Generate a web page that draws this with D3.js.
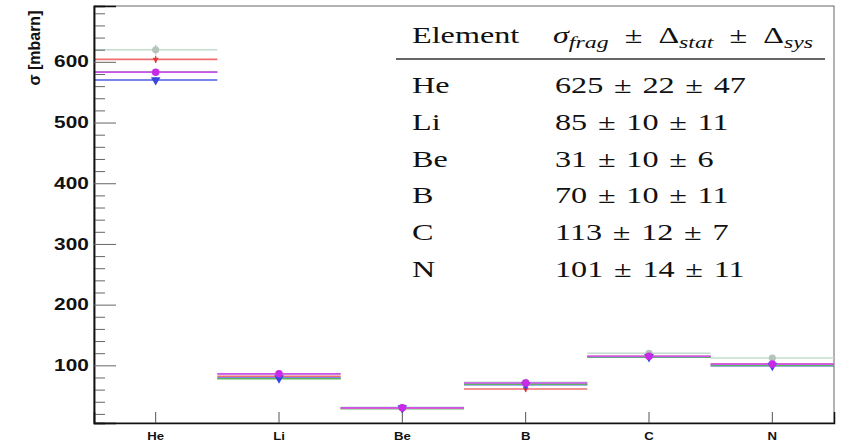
<!DOCTYPE html>
<html>
<head>
<meta charset="utf-8">
<script src="https://cdn.jsdelivr.net/npm/d3@7"></script>
<style>
  body { margin: 0; background: #fff; }
  svg { display: block; }
</style>
</head>
<body>
<svg id="frag_chart" width="841" height="442"></svg>
<script>
// categories (x bins)
const elements = ["He", "Li", "Be", "B", "C", "N"]

// histogram values per model, mbarn
const paleVals    = [620, 86, 31, 72, 120, 112]
const redVals     = [604, 82, 29.5, 61, 115, 102]
const greenVals   = [583, 78, 28.5, 69, 114, 100]
const blueVals    = [570, 79, 29.5, 68, 114, 99.5]
const magentaVals = [583, 86, 30, 71, 115, 102]

// error half-lengths
const paleErr    = [8, 3, 3, 3, 4, 5]
const redErr     = [6, 3, 2, 5, 3, 3]
const blueErr    = [5, 2, 2, 2, 2, 2]
const magentaErr = [3, 2, 2, 2, 2, 2]

// table content
const fragVals = [625, 85, 31, 70, 113, 101]
const statVals = [22, 10, 10, 10, 12, 14]
const sysVals  = [47, 11, 6, 11, 7, 11]

const yMajor = [100, 200, 300, 400, 500, 600]
const yMinor = d3.range(20, 700, 20).filter(v => v % 100 !== 0)

var margin = {top: 6, right: 7, bottom: 19, left: 94},
  width = 841 - margin.left - margin.right,
  height = 442 - margin.top - margin.bottom;

var svg = d3.select("#frag_chart")
  .append("g")
  .attr("transform", "translate(" + margin.left + "," + margin.top + ")");

var x = d3.scaleBand().domain(elements).range([0, width]).padding(0)
var y = d3.scaleLinear().domain([5, 692]).range([height, 0])

// frame
svg.append("rect")
  .attr("width", width).attr("height", height)
  .attr("fill", "none").attr("stroke", "#666").attr("stroke-width", 1)

// histograms, drawn back to front
const series = [
  {vals: paleVals,    color: "#c2dccd"},
  {vals: blueVals,    color: "#4c5ee0"},
  {vals: greenVals,   color: "#5fb560"},
  {vals: redVals,     color: "#ee7070"},
  {vals: magentaVals, color: "#cc55ee"}
]

series.forEach(s => {
  svg.append("g")
    .selectAll("line")
    .data(elements)
    .enter().append("line")
    .attr("x1", d => x(d))
    .attr("x2", d => x(d) + x.bandwidth())
    .attr("y1", (d, i) => y(s.vals[i]))
    .attr("y2", (d, i) => y(s.vals[i]))
    .attr("stroke", s.color)
    .attr("stroke-width", 1.6)
})

// error bars + markers at bin centres
const cx = d => x(d) + x.bandwidth() / 2
const markerSets = [
  {vals: paleVals, err: paleErr, color: "#b4c4bb", shape: d3.symbolCircle, size: 40},
  {vals: redVals, err: redErr, color: "#e23b3b", shape: d3.symbolTriangle, size: 16, flip: true},
  {vals: blueVals, err: blueErr, color: "#3a46e0", shape: d3.symbolTriangle, size: 40, flip: true},
  {vals: magentaVals, err: magentaErr, color: "#c82ae8", shape: d3.symbolCircle, size: 45}
]

markerSets.forEach(m => {
  var g = svg.append("g")
  g.selectAll("line")
    .data(elements)
    .enter().append("line")
    .attr("x1", cx).attr("x2", cx)
    .attr("y1", (d, i) => y(m.vals[i] - m.err[i]))
    .attr("y2", (d, i) => y(m.vals[i] + m.err[i]))
    .attr("stroke", m.color)
    .attr("stroke-width", 1.2)
  g.selectAll("path")
    .data(elements)
    .enter().append("path")
    .attr("d", d3.symbol().type(m.shape).size(m.size))
    .attr("transform", (d, i) => "translate(" + cx(d) + "," + y(m.vals[i]) + ")" + (m.flip ? " rotate(180)" : ""))
    .attr("fill", m.color)
})

// y axis, ticks pointing inward
svg.append("g")
  .attr("class", "yMinor")
  .call(d3.axisLeft(y).tickValues(yMinor).tickSize(-11).tickFormat(""))

svg.append("g")
  .attr("class", "yAxis")
  .call(d3.axisLeft(y).tickValues(yMajor).tickSize(-22).tickPadding(4))

svg.selectAll(".yAxis text")
  .attr("font-family", "'Liberation Sans', Arial, sans-serif")
  .attr("font-weight", "bold")
  .attr("font-size", "16px")
  .attr("fill", "#111")
  .attr("transform", "scale(1.3,1)")

svg.selectAll(".yAxis .tick line, .yMinor .tick line")
  .attr("stroke", "#666")

svg.selectAll(".yAxis .domain, .yMinor .domain")
  .attr("stroke", "#111").attr("stroke-width", 1.5)

// x axis
svg.append("g")
  .attr("class", "xAxis")
  .attr("transform", "translate(0," + height + ")")
  .call(d3.axisBottom(x).tickSize(-11).tickPadding(9))

svg.selectAll(".xAxis .domain").attr("stroke", "#111").attr("stroke-width", 1.5)
svg.selectAll(".xAxis .tick line").attr("stroke", "#555")
svg.selectAll(".xAxis text")
  .attr("font-family", "'Liberation Sans', Arial, sans-serif")
  .attr("font-weight", "bold")
  .attr("font-size", "11px")
  .attr("fill", "#111")
  .attr("transform", "scale(1.2,1)")
  .attr("x", 0)

// y axis title
d3.select("#frag_chart").append("text")
  .attr("transform", "translate(40,48) rotate(-90)")
  .attr("text-anchor", "middle")
  .attr("font-family", "'Liberation Sans', Arial, sans-serif")
  .attr("font-weight", "bold")
  .attr("font-size", "16px")
  .attr("fill", "#111")
  .text("σ [mbarn]")

// results table (latex-like, slightly stretched)
const sx = 1.4
const sp = "\u2002"   // header spacing
const sr = "\u2004"   // row spacing
var table = d3.select("#frag_chart").append("g")
  .attr("transform", "translate(412,0) scale(" + sx + ",1)")
  .attr("font-family", "'Liberation Serif', 'Times New Roman', serif")
  .attr("font-size", "23px")
  .attr("fill", "#111")

table.append("text").attr("x", 0).attr("y", 43).text("Element")

var head = table.append("text").attr("x", (553 - 412) / sx).attr("y", 43)
const sub = (txt) => { head.append("tspan").attr("font-style", "italic").attr("font-size", "17px").attr("dy", 5).text(txt) }
head.append("tspan").attr("font-style", "italic").text("σ")
sub("frag")
head.append("tspan").attr("dy", -5).text(sp + "±" + sp + "Δ")
sub("stat")
head.append("tspan").attr("dy", -5).text(sp + "±" + sp + "Δ")
sub("sys")

d3.select("#frag_chart").append("line")
  .attr("x1", 396).attr("x2", 825)
  .attr("y1", 59).attr("y2", 59)
  .attr("stroke", "#333").attr("stroke-width", 1.6)

var rows = table.selectAll(".row")
  .data(elements)
  .enter().append("g")
  .attr("class", "row")
  .attr("transform", (d, i) => "translate(0," + (93 + i * 36.8) + ")")

rows.append("text").attr("x", 0).text(d => d)
rows.append("text").attr("x", (555 - 412) / sx)
  .text((d, i) => fragVals[i] + sr + "±" + sr + statVals[i] + sr + "±" + sr + sysVals[i])
</script>
</body>
</html>
